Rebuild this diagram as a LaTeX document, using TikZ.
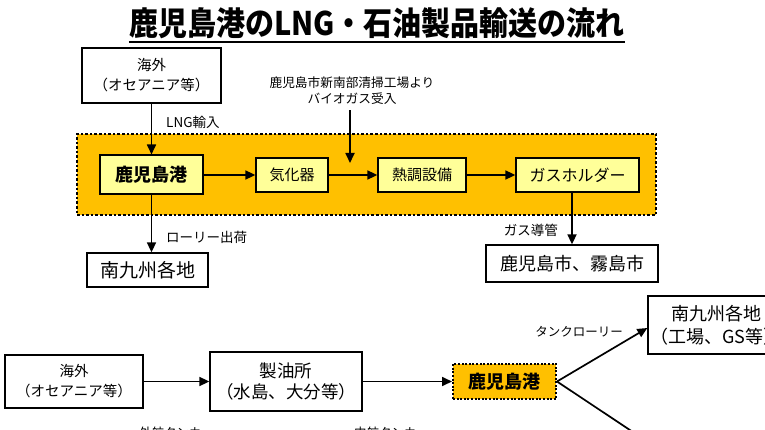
\documentclass[tikz,border=0pt]{standalone}
\usepackage{fontspec}
\usepackage{graphicx}
\setmainfont{Noto Sans CJK JP}
\usetikzlibrary{arrows.meta,calc}
\definecolor{lngorange}{HTML}{FFC000}
\definecolor{paleyellow}{HTML}{FFFF99}
\begin{document}
\begin{tikzpicture}[x=1pt,y=-1pt,
  box/.style={draw=black, line width=1.3pt, fill=white, inner sep=0pt, align=center},
  ybox/.style={draw=black, line width=1.3pt, fill=paleyellow, inner sep=0pt, align=center},
  obox/.style={draw=black, line width=2pt, dash pattern=on 2pt off 1.6pt, fill=lngorange, inner sep=0pt, align=center},
  arr/.style={line width=1.7pt, -{Triangle[length=10pt,width=9pt]}},
  plainline/.style={line width=1.7pt},
  lbl/.style={inner sep=0pt, font=\fontsize{13.5}{16}\selectfont}
]
\useasboundingbox (0,0) rectangle (765,430);
\clip (0,0) rectangle (765,430);
\fill[white] (0,0) rectangle (765,430);

% title
\node[anchor=base, inner sep=0pt, font=\fontsize{29}{34}\selectfont\bfseries] (title) at (377,36) {\scalebox{1}[1.12]{鹿児島港のLNG・石油製品輸送の流れ}};
\draw[line width=1.6pt] (title.west |- 0,42) -- (title.east |- 0,42);

% LNG zone
\node[draw=black, line width=2.6pt, dash pattern=on 2.6pt off 2pt, fill=lngorange, minimum width=579pt, minimum height=81pt, inner sep=0pt] (zone) at (366.5,174.5) {};

% top nodes
\node[box, minimum width=139pt, minimum height=55pt, font=\fontsize{14.5}{20}\selectfont] (ovsA) at (151.5,75.5) {海外\\（オセアニア等）};
\node[ybox, line width=2pt, minimum width=103pt, minimum height=39pt, font=\fontsize{18}{20}\selectfont\bfseries] (portA) at (151.5,175) {鹿児島港};
\node[ybox, minimum width=72pt, minimum height=34pt, font=\fontsize{15}{17}\selectfont] (vap) at (292,175) {気化器};
\node[ybox, minimum width=88pt, minimum height=34pt, font=\fontsize{15}{17}\selectfont] (heat) at (422,175) {熱調設備};
\node[ybox, minimum width=123pt, minimum height=34pt, font=\fontsize{16}{18}\selectfont] (holder) at (577.5,175) {ガスホルダー};
\node[box, minimum width=172pt, minimum height=37pt, font=\fontsize{18}{20}\selectfont] (city) at (572,263.5) {鹿児島市、霧島市};
\node[box, minimum width=121pt, minimum height=34pt, font=\fontsize{19}{20}\selectfont] (southA) at (147.5,270) {南九州各地};

\node[lbl, align=center, font=\fontsize{12.7}{16}\selectfont] (bio) at (352,91) {鹿児島市新南部清掃工場より\\バイオガス受入};
\coordinate (biotip) at (350,163);

\node[lbl, anchor=west] (lngin) at (166,122) {LNG輸入};
\node[lbl, anchor=west] (lorry) at (166,237) {ローリー出荷};
\node[lbl, anchor=east] (pipe) at (558,230) {ガス導管};

\draw[arr] (ovsA.south) -- (portA.north);
\draw[arr] (portA.east) -- (vap.west);
\draw[arr] (vap.east) -- (heat.west);
\draw[arr] (heat.east) -- (holder.west);
\draw[arr] ($(bio.south -| biotip)+(0,5)$) -- (biotip);
\draw[arr] (holder.south -| city.north) -- (city.north);
\draw[arr] (portA.south) -- (portA.south |- southA.north);

% bottom nodes
\node[box, minimum width=138pt, minimum height=53pt, font=\fontsize{14.5}{20}\selectfont] (ovsB) at (74,381.5) {海外\\（オセアニア等）};
\node[box, minimum width=152pt, minimum height=59pt, font=\fontsize{17.5}{21}\selectfont] (refinery) at (286,381.5) {製油所\\（水島、大分等）};
\node[obox, minimum width=103pt, minimum height=35pt, font=\fontsize{18}{20}\selectfont\bfseries] (portB) at (504.5,381.5) {鹿児島港};
\node[box, minimum width=136pt, minimum height=58pt, font=\fontsize{18}{23}\selectfont] (southB) at (716,325) {南九州各地\\（工場、GS等）};
\coordinate (offB) at (690,470);

\node[lbl, anchor=east, font=\fontsize{12.5}{16}\selectfont] (tank) at (623,332) {タンクローリー};
\node[lbl, anchor=west, font=\fontsize{12.5}{16}\selectfont] (ocean) at (139,433) {外航タンカー};
\node[lbl, anchor=west, font=\fontsize{12.5}{16}\selectfont] (coast) at (354,433) {内航タンカー};

\draw[arr] (ovsB.east) -- (refinery.west);
\draw[arr] (refinery.east) -- (portB.west);
\draw[arr] (portB.east) -- ([yshift=-3pt]southB.west);
\draw[plainline] (portB.east) -- (offB);
\end{tikzpicture}
\end{document}
